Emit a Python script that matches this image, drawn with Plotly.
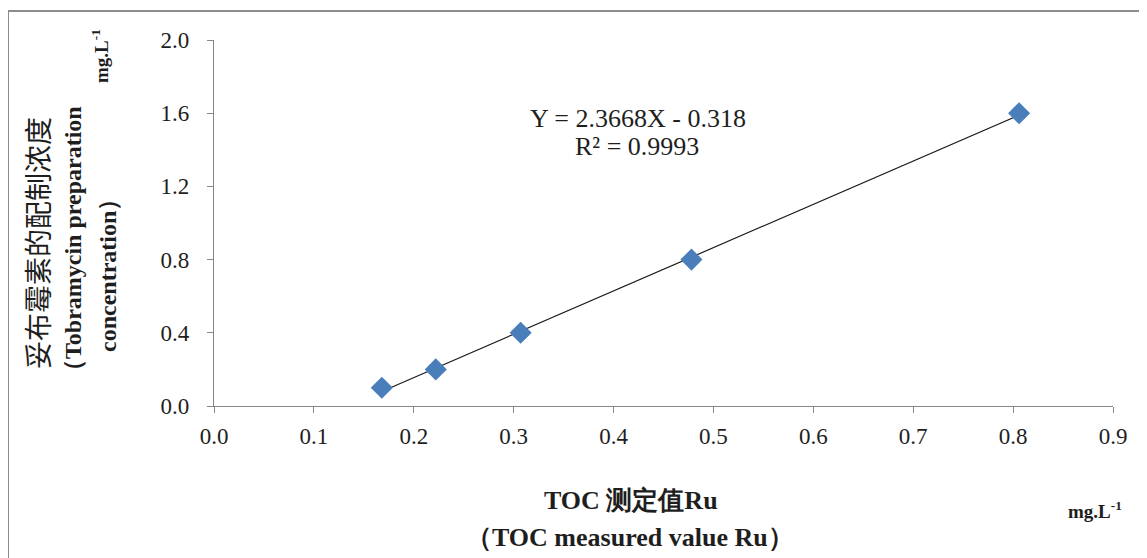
import plotly.graph_objects as go

x_vals = [0.168, 0.222, 0.307, 0.478, 0.806]
y_vals = [0.1, 0.2, 0.4, 0.8, 1.6]
slope = 2.3668
intercept = -0.318
eq_line1 = "Y = 2.3668X - 0.318"
eq_line2 = "R² = 0.9993"
x_ticks = [0.0, 0.1, 0.2, 0.3, 0.4, 0.5, 0.6, 0.7, 0.8, 0.9]
y_ticks = [0.0, 0.4, 0.8, 1.2, 1.6, 2.0]

serif = "Liberation Serif"
axis_col = "#868686"
txt_col = "#1e1e1e"

W, H = 1139, 550
OFF = 8  # page body margin
L, R, T, B = 206, 34, 32, 152

fit_x = [min(x_vals), max(x_vals)]
fit_y = [slope * v + intercept for v in fit_x]

fig = go.Figure()
fig.add_trace(go.Scatter(x=fit_x, y=fit_y, mode="lines",
                         line=dict(color="#1a1a1a", width=1.2), showlegend=False, hoverinfo="skip"))
fig.add_trace(go.Scatter(x=x_vals, y=y_vals, mode="markers",
                         marker=dict(symbol="diamond", size=17, color="#4a7ebb",
                                     line=dict(width=0)), showlegend=False))

fig.update_layout(
    width=W, height=H,
    margin=dict(l=L, r=R, t=T, b=B),
    paper_bgcolor="white", plot_bgcolor="white",
    font=dict(family=serif, size=20, color=txt_col),
    xaxis=dict(range=[0, 0.9], tickvals=x_ticks, ticktext=[f"{v:.1f}" for v in x_ticks],
               showline=True, linecolor=axis_col, linewidth=1.3, ticks="outside",
               tickcolor=axis_col, ticklen=6, showgrid=False, zeroline=False,
               ticklabelstandoff=3,
               tickfont=dict(family=serif, size=23, color=txt_col)),
    yaxis=dict(range=[0, 2.0], tickvals=y_ticks, ticktext=[f"{v:.1f}" for v in y_ticks],
               showline=True, linecolor=axis_col, linewidth=1.3, ticks="outside",
               tickcolor=axis_col, ticklen=6, showgrid=False, zeroline=False,
               ticklabelstandoff=13,
               tickfont=dict(family=serif, size=23, color=txt_col)),
)

pw = W - L - R
ph = H - T - B
def px(xs):
    return (xs - OFF - L) / pw
def py(ys):
    return (H - B - (ys - OFF)) / ph

fig.add_shape(type="line", xref="paper", yref="paper", x0=px(8), x1=px(1150), y0=py(11), y1=py(11),
              line=dict(color="#8c8c8c", width=2))
fig.add_shape(type="line", xref="paper", yref="paper", x0=px(8), x1=px(8), y0=py(11), y1=py(560),
              line=dict(color="#8c8c8c", width=2))

def note(xs, ys, text, size=20, family=serif, angle=0):
    fig.add_annotation(x=px(xs), y=py(ys), xref="paper", yref="paper", text=text,
                       textangle=angle, showarrow=False, xanchor="center", yanchor="middle",
                       align="center", font=dict(family=family, size=size, color=txt_col))

note(638, 118, eq_line1, size=26)
note(637, 146, eq_line2, size=26)
note(37, 243, "妥布霉素的配制浓度", size=28, family="Noto Sans CJK SC", angle=-90)
note(73, 245, "<b>（Tobramycin preparation</b>", size=24, angle=-90)
note(108, 270, "<b>concentration）</b>", size=24, angle=-90)
note(100, 56, "<b>mg.L<sup>-1</sup></b>", size=19, angle=-90)
note(631, 500, "<b>TOC 测定值Ru</b>", size=26)
note(630, 537, "<b>（TOC measured value Ru）</b>", size=26)
note(1095, 510, "<b>mg.L<sup>-1</sup></b>", size=19)

fig.write_html("out.html")
